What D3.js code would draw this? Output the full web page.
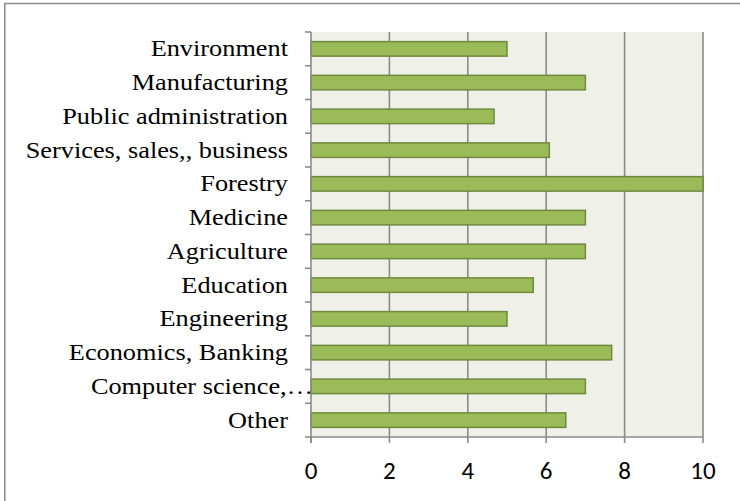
<!DOCTYPE html>
<html>
<head>
<meta charset="utf-8">
<script src="https://cdn.jsdelivr.net/npm/d3@7"></script>
</head>
<body style="margin:0">
<svg id="chart" width="740" height="501"></svg>
<script>
// Field of study categories, top to bottom
const categories = [
  "Environment",
  "Manufacturing",
  "Public administration",
  "Services, sales,, business",
  "Forestry",
  "Medicine",
  "Agriculture",
  "Education",
  "Engineering",
  "Economics, Banking",
  "Computer science,\u2026",
  "Other"
];
const values = [5, 7, 4.67, 6.08, 10, 7, 7, 5.67, 5, 7.67, 7, 6.5];
const xTicks = [0, 2, 4, 6, 8, 10];

const svg = d3.select("#chart");

const plot = { left: 311, right: 703, top: 32, bottom: 437 };

const x = d3.scaleLinear().domain([0, 10]).range([plot.left, plot.right]);

// bands for category boundaries (tick marks) and for the bars themselves
const yBand = d3.scaleBand().domain(categories).range([plot.top, plot.bottom]).padding(0);
const yBar = d3.scaleBand().domain(categories).range([plot.top, plot.bottom])
  .paddingInner(0.57).paddingOuter(0.285);

// outer chart frame
svg.append("rect")
  .attr("x", 4.75).attr("y", 3.5)
  .attr("width", 760).attr("height", 520)
  .attr("fill", "#ffffff")
  .attr("stroke", "#8a8a8a")
  .attr("stroke-width", 1.5);

// plot background
svg.append("rect")
  .attr("x", plot.left).attr("y", plot.top)
  .attr("width", plot.right - plot.left)
  .attr("height", plot.bottom - plot.top)
  .attr("fill", "#eff1e9");

// vertical gridlines
svg.append("g")
  .selectAll("line")
  .data(xTicks.filter(d => d > 0))
  .join("line")
  .attr("x1", d => x(d)).attr("x2", d => x(d))
  .attr("y1", plot.top).attr("y2", plot.bottom)
  .attr("stroke", "#8b8b8b")
  .attr("stroke-width", 1.6);

// bars
svg.append("g")
  .selectAll("rect")
  .data(categories)
  .join("rect")
  .attr("x", x(0))
  .attr("y", d => yBar(d))
  .attr("width", (d, i) => x(values[i]) - x(0))
  .attr("height", yBar.bandwidth())
  .attr("fill", "#9bbb59")
  .attr("stroke", "#71893f")
  .attr("stroke-width", 1.5);

// category axis (left)
const yAxisG = svg.append("g");
yAxisG.append("line")
  .attr("x1", plot.left).attr("x2", plot.left)
  .attr("y1", plot.top).attr("y2", plot.bottom + 6)
  .attr("stroke", "#8b8b8b").attr("stroke-width", 1.6);
const boundaries = categories.map(c => yBand(c)).concat([plot.bottom]);
yAxisG.selectAll("line.tick")
  .data(boundaries)
  .join("line")
  .attr("class", "tick")
  .attr("x1", plot.left - 6).attr("x2", plot.left)
  .attr("y1", d => d).attr("y2", d => d)
  .attr("stroke", "#8b8b8b").attr("stroke-width", 1.6);

// category labels, slightly widened serif text, right-aligned against the axis
yAxisG.selectAll("text")
  .data(categories)
  .join("text")
  .attr("transform", d => {
    const xr = d.endsWith("\u2026") ? 313 : 288;
    const yc = yBand(d) + yBand.bandwidth() / 2 + 7.6;
    return `translate(${xr},${yc}) scale(1.12,1)`;
  })
  .attr("text-anchor", "end")
  .style("font-family", () => '"Times New Roman"')
  .style("font-size", () => "23.5px")
  .attr("fill", "#000000")
  .text(d => d);

// value axis (bottom)
const xAxisG = svg.append("g");
xAxisG.append("line")
  .attr("x1", plot.left).attr("x2", plot.right)
  .attr("y1", plot.bottom).attr("y2", plot.bottom)
  .attr("stroke", "#8b8b8b").attr("stroke-width", 1.6);
xAxisG.selectAll("line.tick")
  .data(xTicks)
  .join("line")
  .attr("class", "tick")
  .attr("x1", d => x(d)).attr("x2", d => x(d))
  .attr("y1", plot.bottom).attr("y2", plot.bottom + 6)
  .attr("stroke", "#8b8b8b").attr("stroke-width", 1.6);
xAxisG.selectAll("text")
  .data(xTicks)
  .join("text")
  .attr("x", d => x(d))
  .attr("y", 479)
  .attr("text-anchor", "middle")
  .style("font-family", () => '"Carlito"')
  .style("font-size", () => "25px")
  .attr("fill", "#000000")
  .text(d => d);
</script>
</body>
</html>
